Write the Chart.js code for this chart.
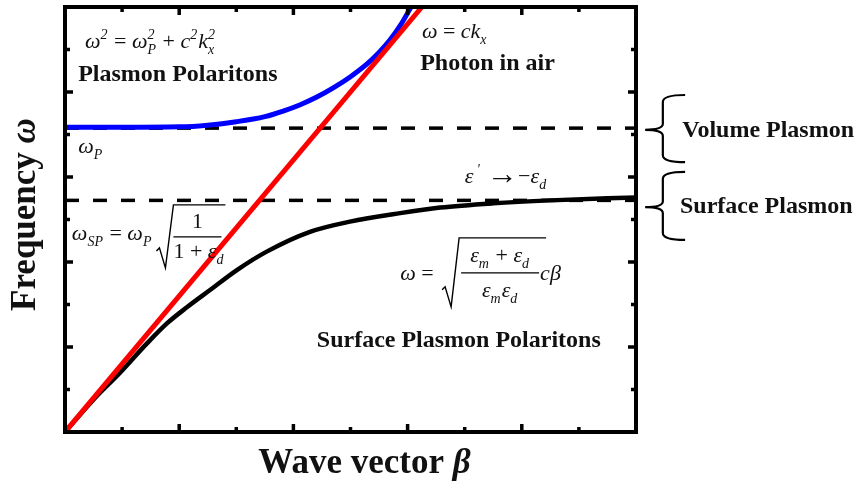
<!DOCTYPE html>
<html>
<head>
<meta charset="utf-8">
<script src="https://cdn.jsdelivr.net/npm/chart.js@4.4.1/dist/chart.umd.min.js"></script>
<style>
  html, body { margin: 0; padding: 0; background: #fff; }
  canvas { display: block; }
</style>
</head>
<body>
<canvas id="myChart" width="860" height="484"></canvas>
<script>
// wave vector (x) and frequency (y), arbitrary units 0..10
const photonX = [0, 6.25];
const photonY = [0, 10];

const bulkX = [0, 1, 2, 2.5, 3, 3.5, 3.82, 4.12, 4.41, 4.69, 5.0, 5.29, 5.5, 5.69, 5.87, 6.06];
const bulkY = [7.17, 7.17, 7.18, 7.22, 7.3, 7.42, 7.55, 7.7, 7.88, 8.09, 8.36, 8.66, 8.93, 9.22, 9.56, 10];

const sppX = [0, 0.49, 0.96, 1.44, 1.79, 2.14, 2.54, 3.01, 3.54, 4.29, 4.99, 5.87, 6.57, 7.5, 8.5, 10];
const sppY = [0, 0.75, 1.39, 2.09, 2.56, 2.94, 3.34, 3.81, 4.25, 4.71, 4.95, 5.15, 5.28, 5.38, 5.45, 5.52];

const omegaP = 7.15;
const omegaSP = 5.45;

const xTicks = [0, 1, 2, 3, 4, 5, 6, 7, 8, 9, 10];
const yTicks = [0, 1, 2, 3, 4, 5, 6, 7, 8, 9, 10];

const xTitle = "Wave vector ";
const yTitle = "Frequency ";

const toPts = (xs, ys) => xs.map((v, i) => ({ x: v, y: ys[i] }));

const SERIF = '"Liberation Serif", "Times New Roman", serif';

// draws italic math with sub/superscripts, returns end x
function drawMath(ctx, x, y, items, size, dry) {
  const main = `italic ${size}px ${SERIF}`;
  const small = `italic ${Math.round(size * 0.62)}px ${SERIF}`;
  let cx = x;
  for (const it of items) {
    if (typeof it === "string") {
      ctx.font = main;
      if (!dry) ctx.fillText(it, cx, y);
      cx += ctx.measureText(it).width;
    } else if (it.r) {
      ctx.font = `${Math.round(size * (it.s || 1))}px ${SERIF}`;
      if (!dry) ctx.fillText(it.r, cx, y + (it.dy || 0));
      cx += ctx.measureText(it.r).width;
    } else {
      ctx.font = small;
      let w = 0;
      if (it.b) {
        if (!dry) ctx.fillText(it.b, cx, y + size * 0.28);
        w = Math.max(w, ctx.measureText(it.b).width);
      }
      if (it.p) {
        if (!dry) ctx.fillText(it.p, cx, y - size * 0.42);
        w = Math.max(w, ctx.measureText(it.p).width);
      }
      cx += w + 1;
    }
  }
  return cx;
}

function drawSqrt(ctx, x, bottom, top, xEnd) {
  ctx.save();
  ctx.lineWidth = 1.4;
  ctx.beginPath();
  ctx.moveTo(x, bottom - 17);
  ctx.lineTo(x + 3, bottom - 20);
  ctx.lineTo(x + 9, bottom);
  ctx.lineTo(x + 17, top);
  ctx.lineTo(xEnd, top);
  ctx.stroke();
  ctx.restore();
}

function fracBar(ctx, x0, x1, y) {
  ctx.save();
  ctx.lineWidth = 1.2;
  ctx.beginPath();
  ctx.moveTo(x0, y);
  ctx.lineTo(x1, y);
  ctx.stroke();
  ctx.restore();
}

function brace(ctx, tipX, spineX, endX, top, mid, bottom) {
  ctx.save();
  ctx.lineWidth = 2.2;
  ctx.beginPath();
  ctx.moveTo(endX, top);
  ctx.quadraticCurveTo(spineX, top, spineX, top + 7);
  ctx.lineTo(spineX, mid - 6);
  ctx.quadraticCurveTo(spineX, mid, tipX, mid);
  ctx.moveTo(tipX, mid);
  ctx.quadraticCurveTo(spineX, mid, spineX, mid + 6);
  ctx.lineTo(spineX, bottom - 7);
  ctx.quadraticCurveTo(spineX, bottom, endX, bottom);
  ctx.stroke();
  ctx.restore();
}

const frame = {
  id: "frame",
  afterDatasetsDraw(chart) {
    const { ctx, chartArea: a, scales: { x, y } } = chart;
    ctx.save();
    ctx.strokeStyle = "#000";
    ctx.fillStyle = "#111";
    ctx.lineCap = "butt";

    // box
    ctx.lineWidth = 4;
    ctx.strokeRect(a.left, a.top, a.right - a.left, a.bottom - a.top);

    // inward ticks on all four sides
    ctx.lineWidth = 3.5;
    ctx.beginPath();
    xTicks.forEach(v => {
      const px = x.getPixelForValue(v);
      const len = v % 2 === 0 ? 8 : 5;
      ctx.moveTo(px, a.bottom); ctx.lineTo(px, a.bottom - len);
      ctx.moveTo(px, a.top); ctx.lineTo(px, a.top + len);
    });
    yTicks.forEach(v => {
      const py = y.getPixelForValue(v);
      const len = v % 2 === 0 ? 8 : 5;
      ctx.moveTo(a.left, py); ctx.lineTo(a.left + len, py);
      ctx.moveTo(a.right, py); ctx.lineTo(a.right - len, py);
    });
    ctx.stroke();

    const P = (vx, vy) => [x.getPixelForValue(vx), y.getPixelForValue(vy)];
    ctx.textBaseline = "alphabetic";
    ctx.textAlign = "left";

    // bold labels
    ctx.font = `bold 24px ${SERIF}`;
    let p = P(0.23, 8.26); ctx.fillText("Plasmon Polaritons", p[0], p[1]);
    p = P(6.22, 8.52); ctx.fillText("Photon in air", p[0], p[1]);
    p = P(4.41, 2.0); ctx.fillText("Surface Plasmon Polaritons", p[0], p[1]);
    p = P(10.81, 6.94); ctx.fillText("Volume Plasmon", p[0], p[1]);
    p = P(10.77, 5.15); ctx.fillText("Surface Plasmon", p[0], p[1]);

    // equations
    const fs = 22;
    p = P(0.35, 9.03);
    drawMath(ctx, p[0], p[1], ["ω", { p: "2" }, { r: " = " }, "ω", { b: "P", p: "2" }, { r: " + " }, "c", { p: "2" }, "k", { b: "x", p: "2" }], fs);
    p = P(6.25, 9.27);
    drawMath(ctx, p[0], p[1], ["ω", { r: " = " }, "ck", { b: "x" }], fs);
    p = P(0.23, 6.56);
    drawMath(ctx, p[0], p[1], ["ω", { b: "P" }], fs);
    p = P(7.0, 5.86);
    drawMath(ctx, p[0], p[1], ["ε", { p: " '" }, { r: "\u2009→", s: 1.4, dy: 1 }, { r: "−" }, "ε", { b: "d" }], fs);

    // omega_SP = omega_P sqrt(1/(1+eps_d))
    p = P(0.12, 4.52);
    let ex = drawMath(ctx, p[0], p[1], ["ω", { b: "SP" }, { r: " = " }, "ω", { b: "P" }], fs);
    let sx = ex + 4;
    drawSqrt(ctx, sx, p[1] + 28, p[1] - 35, sx + 69);
    fracBar(ctx, sx + 17, sx + 65, p[1] - 3);
    drawMath(ctx, sx + 17, p[1] + 18, [{ r: "1 + " }, "ε", { b: "d" }], fs);
    ctx.font = `${fs}px ${SERIF}`;
    ctx.fillText("1", sx + 41 - ctx.measureText("1").width / 2, p[1] - 12);

    // omega = sqrt((em+ed)/(em ed)) c beta
    p = P(5.87, 3.58);
    ex = drawMath(ctx, p[0], p[1], ["ω", { r: " = " }], fs);
    sx = ex + 3;
    drawSqrt(ctx, sx, p[1] + 27, p[1] - 42, sx + 104);
    fracBar(ctx, sx + 19, sx + 97, p[1] - 7);
    const num = ["ε", { b: "m" }, { r: " + " }, "ε", { b: "d" }];
    const dnm = ["ε", { b: "m" }, "ε", { b: "d" }];
    const mid = sx + 58;
    let w = drawMath(ctx, 0, 0, num, fs, true);
    drawMath(ctx, mid - w / 2, p[1] - 18, num, fs);
    w = drawMath(ctx, 0, 0, dnm, fs, true);
    drawMath(ctx, mid - w / 2, p[1] + 17, dnm, fs);
    drawMath(ctx, sx + 98, p[1], ["c", "β"], fs);

    // braces on the right
    const bx = P(10.16, 0)[0], sp = P(10.47, 0)[0], he = P(10.86, 0)[0];
    brace(ctx, bx, sp, he, P(0, 7.93)[1], P(0, 7.11)[1], P(0, 6.35)[1]);
    brace(ctx, bx, sp, he, P(0, 6.12)[1], P(0, 5.29)[1], P(0, 4.52)[1]);

    // axis titles
    ctx.font = `bold 35px ${SERIF}`;
    let w1 = ctx.measureText(xTitle).width;
    ctx.font = `bold italic 35px ${SERIF}`;
    let w2 = ctx.measureText("β").width;
    let cx = (a.left + a.right) / 2 + 14 - (w1 + w2) / 2;
    ctx.font = `bold 35px ${SERIF}`;
    ctx.fillText(xTitle, cx, a.bottom + 41);
    ctx.font = `bold italic 35px ${SERIF}`;
    ctx.fillText("β", cx + w1, a.bottom + 41);

    ctx.save();
    ctx.translate(a.left - 30, (a.top + a.bottom) / 2 - 5);
    ctx.rotate(-Math.PI / 2);
    ctx.font = `bold 35px ${SERIF}`;
    w1 = ctx.measureText(yTitle).width;
    ctx.font = `bold italic 35px ${SERIF}`;
    w2 = ctx.measureText("ω").width;
    cx = -(w1 + w2) / 2;
    ctx.font = `bold 35px ${SERIF}`;
    ctx.fillText(yTitle, cx, 0);
    ctx.font = `bold italic 35px ${SERIF}`;
    ctx.fillText("ω", cx + w1, 0);
    ctx.restore();

    ctx.restore();
  }
};

const ctx = document.getElementById("myChart");
const myChart = new Chart(ctx, {
  type: "scatter",
  data: {
    datasets: [
      {
        label: "Photon in air",
        data: toPts(photonX, photonY),
        showLine: true,
        borderColor: "#ff0000",
        borderWidth: 5,
        pointRadius: 0,
      },
      {
        label: "Plasmon Polaritons",
        data: toPts(bulkX, bulkY),
        showLine: true,
        borderColor: "#0000ff",
        borderWidth: 5,
        pointRadius: 0,
        cubicInterpolationMode: "monotone",
      },
      {
        label: "Surface Plasmon Polaritons",
        data: toPts(sppX, sppY),
        showLine: true,
        borderColor: "#000000",
        borderWidth: 4.5,
        pointRadius: 0,
        cubicInterpolationMode: "monotone",
      },
      {
        label: "Volume Plasmon",
        data: toPts([0, 10], [omegaP, omegaP]),
        showLine: true,
        borderColor: "#000000",
        borderWidth: 3.5,
        borderDash: [14, 14],
        pointRadius: 0,
      },
      {
        label: "Surface Plasmon",
        data: toPts([0, 10], [omegaSP, omegaSP]),
        showLine: true,
        borderColor: "#000000",
        borderWidth: 3.5,
        borderDash: [14, 14],
        pointRadius: 0,
      },
    ],
  },
  options: {
    responsive: false,
    animation: false,
    layout: { padding: { left: 65, right: 224, top: 7, bottom: 52 } },
    scales: {
      x: { type: "linear", min: 0, max: 10, display: false },
      y: { type: "linear", min: 0, max: 10, display: false },
    },
    plugins: {
      legend: { display: false },
      tooltip: { enabled: false },
    },
  },
  plugins: [frame],
});
</script>
</body>
</html>
